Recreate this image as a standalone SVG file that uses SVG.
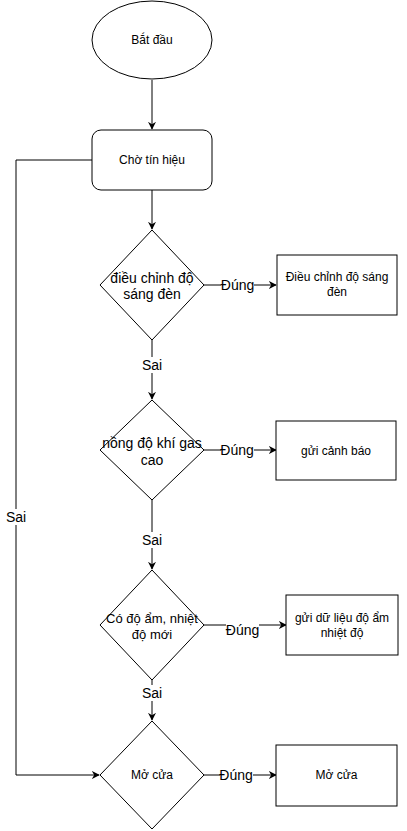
<svg xmlns="http://www.w3.org/2000/svg" width="407" height="831" viewBox="0 0 407 831">
<defs>
<style>
.n{fill:#fff;stroke:#000;stroke-width:1}
.t{font-family:"Liberation Sans",Arial,sans-serif;fill:#000;text-anchor:middle}
.s12{font-size:12px}
.s14{font-size:14px}
.e{fill:none;stroke:#000;stroke-width:1}
.lb{fill:#fff}
</style>
<marker id="ar" viewBox="0 0 10 10" refX="9" refY="5" markerWidth="8" markerHeight="8" markerUnits="userSpaceOnUse" orient="auto">
<path d="M0,0 L10,5 L0,10 L3,5 z" fill="#000"/>
</marker>
</defs>
<rect width="407" height="831" fill="#fff"/>
<g id="connectors">
<path class="e" d="M152,80 V129" marker-end="url(#ar)"/>
<path class="e" d="M152,190 V229" marker-end="url(#ar)"/>
<path class="e" d="M204,285 H276" marker-end="url(#ar)"/>
<path class="e" d="M152,340 V399" marker-end="url(#ar)"/>
<path class="e" d="M204,450 H276" marker-end="url(#ar)"/>
<path class="e" d="M152,500 V569" marker-end="url(#ar)"/>
<path class="e" d="M204,625 H286" marker-end="url(#ar)"/>
<path class="e" d="M152,680 V720" marker-end="url(#ar)"/>
<path class="e" d="M204,775 H276" marker-end="url(#ar)"/>
<path class="e" d="M92,160 H16 V775 H99" marker-end="url(#ar)"/>
<rect class="lb" x="221" y="277" width="33" height="16"/>
<text class="t s14" x="237.5" y="290">Đúng</text>
<rect class="lb" x="141" y="357" width="22" height="16"/>
<text class="t s14" x="152" y="370">Sai</text>
<rect class="lb" x="221" y="442" width="33" height="16"/>
<text class="t s14" x="237" y="455">Đúng</text>
<rect class="lb" x="141" y="532" width="22" height="16"/>
<text class="t s14" x="152" y="545">Sai</text>
<rect class="lb" x="226" y="622" width="33" height="16"/>
<text class="t s14" x="242.5" y="635">Đúng</text>
<rect class="lb" x="141" y="685" width="22" height="16"/>
<text class="t s14" x="152" y="698">Sai</text>
<rect class="lb" x="220" y="767" width="33" height="16"/>
<text class="t s14" x="236" y="780">Đúng</text>
<rect class="lb" x="5" y="509" width="22" height="16"/>
<text class="t s14" x="16" y="522">Sai</text>
</g>
<g id="start">
<ellipse class="n" cx="152" cy="40" rx="60" ry="39"/>
<text class="t s12" x="152" y="44">Bắt đầu</text>
</g>
<g id="wait">
<rect class="n" x="92" y="130" width="120" height="60" rx="9"/>
<text class="t s12" x="152" y="164">Chờ tín hiệu</text>
</g>
<g id="d1">
<path class="n" d="M152,230 L204,285 L152,340 L100,285 Z"/>
<text class="t s14" x="152" y="283">điều chỉnh độ</text>
<text class="t s14" x="152" y="299">sáng đèn</text>
</g>
<g id="b1">
<rect class="n" x="277" y="255" width="120" height="60"/>
<text class="t s12" x="337" y="281">Điều chỉnh độ sáng</text>
<text class="t s12" x="337" y="296">đèn</text>
</g>
<g id="d2">
<path class="n" d="M152,400 L204,450 L152,500 L100,450 Z"/>
<text class="t s14" x="152" y="448">nồng độ khí gas</text>
<text class="t s14" x="152" y="465">cao</text>
</g>
<g id="b2">
<rect class="n" x="276" y="421" width="120" height="59"/>
<text class="t s12" x="336" y="455">gửi cảnh báo</text>
</g>
<g id="d3">
<path class="n" d="M152,570 L204,625 L152,680 L100,625 Z"/>
<text class="t" style="font-size:13px" x="152" y="623">Có độ ẩm, nhiệt</text>
<text class="t" style="font-size:13px" x="152" y="639">độ mới</text>
</g>
<g id="b3">
<rect class="n" x="286" y="595" width="112" height="60"/>
<text class="t s12" x="342" y="622">gửi dữ liệu độ ẩm</text>
<text class="t s12" x="342" y="637">nhiệt độ</text>
</g>
<g id="d4">
<path class="n" d="M152,721 L204,775 L152,829 L100,775 Z"/>
<text class="t s12" x="152" y="779">Mở cửa</text>
</g>
<g id="b4">
<rect class="n" x="276" y="745" width="121" height="61"/>
<text class="t s12" x="336.5" y="779">Mở cửa</text>
</g>
</svg>
